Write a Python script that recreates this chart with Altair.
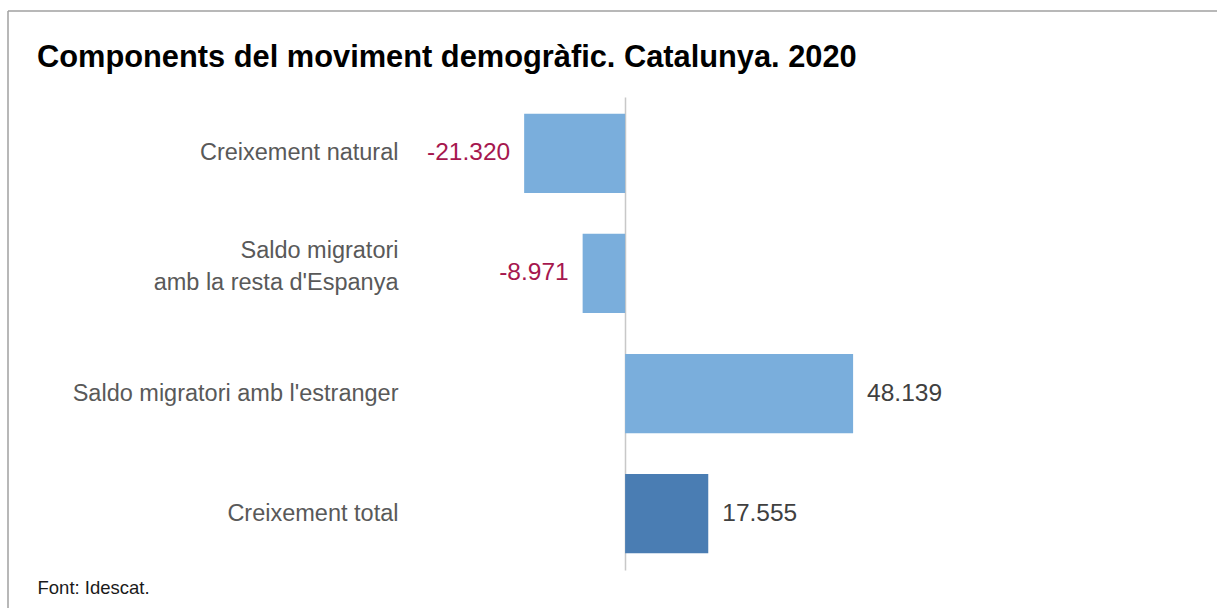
import altair as alt
import pandas as pd

categories = [
    "Creixement natural",
    "Saldo migratori|amb la resta d'Espanya",
    "Saldo migratori amb l'estranger",
    "Creixement total",
]
values = [-21320, -8971, 48139, 17555]
kinds = ["component", "component", "component", "total"]

df = pd.DataFrame({"cat": categories, "value": values, "kind": kinds})
df["label"] = [f"{v:,}".replace(",", ".") for v in values]

FONT = "Liberation Sans"
PAD_LEFT = 412
PAD_TOP = 97
W = 592
H = 473

base = alt.Chart(df)

y_enc = alt.Y(
    "cat:N",
    sort=None,
    scale=alt.Scale(paddingInner=0.34, paddingOuter=0.14),
    axis=alt.Axis(
        title=None,
        ticks=False,
        domain=False,
        labelPadding=14,
        labelFontSize=23.5,
        labelColor="#595959",
        labelFont=FONT,
        labelLineHeight=32,
        labelLimit=400,
        labelExpr="split(datum.label, '|')",
        labelOffset={"expr": "indexof(datum.value, '|') >= 0 ? -22 : 0"},
    ),
)

x_enc = alt.X(
    "value:Q",
    scale=alt.Scale(domain=[-45000, 80000], nice=False),
    axis=alt.Axis(
        values=[0],
        labels=False,
        ticks=False,
        domain=False,
        grid=True,
        gridColor="#c8c8c8",
        gridWidth=1.5,
        title="Font: Idescat.",
        titleFont=FONT,
        titleFontSize=18.5,
        titleFontWeight="normal",
        titleColor="#1a1a1a",
        titleAlign="left",
        titleAnchor="start",
        titleBaseline="alphabetic",
        titleX=37 - PAD_LEFT,
        titleY=593 - PAD_TOP - H,
    ),
)

bars = base.mark_bar().encode(
    x=x_enc,
    y=y_enc,
    color=alt.Color(
        "kind:N",
        scale=alt.Scale(domain=["component", "total"], range=["#7aaedc", "#4a7db3"]),
        legend=None,
    ),
)

neg_text = base.transform_filter("datum.value < 0").mark_text(
    align="right", baseline="middle", dx=-14, font=FONT, fontSize=24.5, color="#a6174e"
).encode(x="value:Q", y=alt.Y("cat:N", sort=None), text="label:N")

pos_text = base.transform_filter("datum.value >= 0").mark_text(
    align="left", baseline="middle", dx=14, font=FONT, fontSize=24.5, color="#404040"
).encode(x="value:Q", y=alt.Y("cat:N", sort=None), text="label:N")

border_top = alt.Chart(pd.DataFrame({"d": [0]})).mark_rule(
    color="#a0a0a0", strokeWidth=1.5
).encode(
    x=alt.value(8 - PAD_LEFT), x2=alt.value(1217 - PAD_LEFT),
    y=alt.value(11 - PAD_TOP),
)
border_left = alt.Chart(pd.DataFrame({"d": [0]})).mark_rule(
    color="#a0a0a0", strokeWidth=1.5
).encode(
    x=alt.value(8 - PAD_LEFT),
    y=alt.value(11 - PAD_TOP), y2=alt.value(608 - PAD_TOP),
)

chart = alt.layer(bars, neg_text, pos_text, border_top, border_left).properties(
    width=W,
    height=H,
    background="white",
    padding={"left": PAD_LEFT, "top": PAD_TOP, "right": 1217 - PAD_LEFT - W, "bottom": 608 - PAD_TOP - H},
    autosize=alt.AutoSizeParams(type="none"),
    title=alt.TitleParams(
        "Components del moviment demogràfic. Catalunya. 2020",
        anchor="start",
        frame="group",
        font=FONT,
        fontSize=30.8,
        fontWeight="bold",
        color="#000000",
        baseline="alphabetic",
        dx=37 - PAD_LEFT,
        offset=0,
        dy=88,
    ),
).configure_view(strokeWidth=0, stroke="transparent")

chart.save("out.html", embed_options={"renderer": "svg", "actions": False})
